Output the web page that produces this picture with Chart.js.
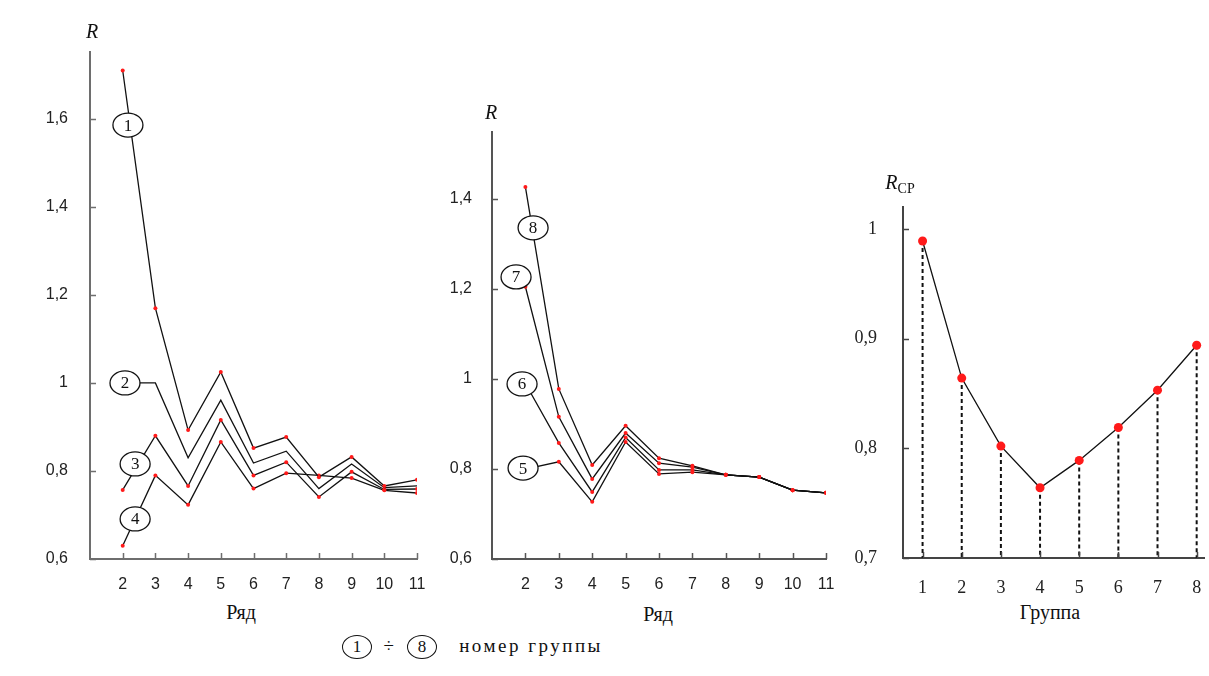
<!DOCTYPE html>
<html>
<head>
<meta charset="utf-8">
<script src="https://cdn.jsdelivr.net/npm/chart.js@4.4.1/dist/chart.umd.min.js"></script>
<style>
	body { margin: 0; background: #fff; width: 1209px; height: 676px; position: relative; overflow: hidden; }
	canvas { position: absolute; }
	.t { position: absolute; transform: translate(-50%, -50%); color: #111; white-space: nowrap; font-family: "Liberation Serif", "Times New Roman", serif; }
	.r { font-style: italic; font-size: 20px; }
	.title { font-size: 20px; }
	.oval { width: 28px; height: 22px; line-height: 22px; border: 1.4px solid #111; border-radius: 50%; text-align: center; font-size: 17px; }
	.legend { font-size: 19px; letter-spacing: 2.5px; }
</style>
</head>
<body>
<canvas id="leftChart" style="left:0;top:0" width="430" height="600"></canvas>
<canvas id="midChart" style="left:430px;top:0" width="410" height="600"></canvas>
<canvas id="rightChart" style="left:840px;top:0" width="369" height="599"></canvas>

<div class="t r" style="left:92px;top:31px">R</div>
<div class="t r" style="left:491px;top:112px">R</div>
<div class="t r" style="left:900px;top:182px">R<span style="font-style:normal;font-size:14px;position:relative;top:4px">CP</span></div>
<div class="t title" style="left:241px;top:612px">Ряд</div>
<div class="t title" style="left:658px;top:614px">Ряд</div>
<div class="t title" style="left:1050px;top:612px">Группа</div>
<div class="t oval" style="left:357px;top:647px">1</div>
<div class="t legend" style="left:390px;top:646px">÷</div>
<div class="t oval" style="left:422px;top:647px">8</div>
<div class="t legend" style="left:531px;top:646px">номер группы</div>

<script>
// ряд (row) numbers for the two left panels
const ryad = [2, 3, 4, 5, 6, 7, 8, 9, 10, 11];
const group1 = [1.71, 1.17, 0.893, 1.025, 0.852, 0.877, 0.786, 0.832, 0.766, 0.78];
const group2 = [1.0, 1.0, 0.83, 0.961, 0.818, 0.845, 0.76, 0.816, 0.762, 0.766];
const group3 = [0.757, 0.88, 0.766, 0.916, 0.79, 0.82, 0.741, 0.798, 0.758, 0.759];
const group4 = [0.63, 0.79, 0.723, 0.866, 0.76, 0.795, 0.79, 0.784, 0.756, 0.75];

const group5 = [0.8, 0.816, 0.727, 0.86, 0.789, 0.793, 0.787, 0.782, 0.753, 0.747];
const group6 = [0.99, 0.858, 0.749, 0.87, 0.798, 0.798, 0.787, 0.782, 0.753, 0.747];
const group7 = [1.205, 0.916, 0.778, 0.88, 0.813, 0.804, 0.787, 0.782, 0.753, 0.747];
const group8 = [1.427, 0.978, 0.809, 0.896, 0.824, 0.807, 0.787, 0.782, 0.753, 0.747];

// average R per group
const gruppa = [1, 2, 3, 4, 5, 6, 7, 8];
const rSr = [0.989, 0.864, 0.802, 0.764, 0.789, 0.819, 0.853, 0.894];

const leftYTicks = [0.6, 0.8, 1.0, 1.2, 1.4, 1.6];
const midYTicks = [0.6, 0.8, 1.0, 1.2, 1.4];
const rightYTicks = [0.7, 0.8, 0.9, 1.0];

// circled group numbers, anchored in data units
const leftTags = ['1', '2', '3', '4'];
const leftTagX = [2.16, 2.07, 2.38, 2.38];
const leftTagY = [1.586, 1.0, 0.816, 0.691];
const midTags = ['8', '7', '6', '5'];
const midTagX = [2.23, 1.72, 1.9, 1.93];
const midTagY = [1.336, 1.227, 0.989, 0.802];

const sansFont = { family: '"Liberation Sans", Arial, sans-serif', size: 16 };
const serifFont = { family: '"Liberation Serif", "Times New Roman", serif', size: 18 };

function fmt(v) {
	return String(Math.round(v * 10) / 10).replace('.', ',');
}

function toPoints(xs, ys) {
	return xs.map((x, i) => ({ x, y: ys[i] }));
}

function tagItems(texts, xs, ys) {
	return texts.map((text, i) => ({ text, x: xs[i], y: ys[i] }));
}

const innerTicks = {
	id: 'innerTicks',
	afterDraw(chart, args, opts) {
		const { ctx, chartArea: a, scales: { x, y } } = chart;
		ctx.save();
		ctx.strokeStyle = opts.color;
		ctx.lineWidth = 1.5;
		ctx.beginPath();
		for (const t of y.ticks) {
			const py = Math.round(y.getPixelForValue(t.value)) + 0.5;
			ctx.moveTo(a.left, py);
			ctx.lineTo(a.left + 6, py);
		}
		for (const t of x.ticks) {
			const px = Math.round(x.getPixelForValue(t.value)) + 0.5;
			ctx.moveTo(px, a.bottom);
			ctx.lineTo(px, a.bottom - 6);
		}
		ctx.stroke();
		ctx.restore();
	},
};

const circleTags = {
	id: 'circleTags',
	afterDatasetsDraw(chart, args, opts) {
		if (!opts.items) return;
		const { ctx, scales: { x, y } } = chart;
		ctx.save();
		for (const item of opts.items) {
			const px = x.getPixelForValue(item.x);
			const py = y.getPixelForValue(item.y);
			ctx.beginPath();
			ctx.ellipse(px, py, 15, 12, 0, 0, Math.PI * 2);
			ctx.fillStyle = '#fff';
			ctx.fill();
			ctx.lineWidth = 1.3;
			ctx.strokeStyle = '#111';
			ctx.stroke();
			ctx.fillStyle = '#111';
			ctx.font = '17px "Liberation Serif", "Times New Roman", serif';
			ctx.textAlign = 'center';
			ctx.textBaseline = 'middle';
			ctx.fillText(item.text, px, py + 1);
		}
		ctx.restore();
	},
};

const dropLines = {
	id: 'dropLines',
	beforeDatasetsDraw(chart, args, opts) {
		if (!opts.enabled) return;
		const { ctx, chartArea: a } = chart;
		const meta = chart.getDatasetMeta(0);
		ctx.save();
		ctx.strokeStyle = '#111';
		ctx.lineWidth = 2;
		ctx.setLineDash([4, 3]);
		for (const el of meta.data) {
			ctx.beginPath();
			ctx.moveTo(el.x, el.y);
			ctx.lineTo(el.x, a.bottom);
			ctx.stroke();
		}
		ctx.restore();
	},
};

function axis(o) {
	return {
		type: 'linear',
		min: o.min,
		max: o.max,
		afterBuildTicks: (scale) => {
			scale.ticks = o.ticks.map((value) => ({ value }));
		},
		afterFit: (scale) => {
			if (o.width) scale.width = o.width;
			if (o.height) scale.height = o.height;
		},
		// tick marks are hidden; tickLength only pushes the labels away from the axis
		grid: { display: false, drawTicks: true, tickLength: o.gap },
		border: { display: true, color: o.color, width: 2 },
		ticks: {
			padding: 0,
			color: '#222',
			font: o.font,
			autoSkip: false,
			maxRotation: 0,
			callback: (v) => fmt(v),
		},
	};
}

function lineSet(xs, ys, pointRadius, pointColor) {
	return {
		data: toPoints(xs, ys),
		borderColor: '#111',
		borderWidth: 1.3,
		pointRadius,
		pointBackgroundColor: pointColor,
		pointBorderWidth: 0,
		tension: 0,
	};
}

function makeChart(id, datasets, cfg) {
	return new Chart(document.getElementById(id), {
		type: 'line',
		data: { datasets },
		plugins: [innerTicks, circleTags, dropLines],
		options: {
			responsive: false,
			animation: false,
			layout: { padding: cfg.padding },
			plugins: {
				legend: { display: false },
				tooltip: { enabled: false },
				innerTicks: { color: cfg.axisColor },
				circleTags: { items: cfg.tags },
				dropLines: { enabled: !!cfg.drop },
			},
			scales: {
				x: axis({ min: cfg.xMin, max: cfg.xMax, ticks: cfg.xTicks, height: cfg.xHeight, gap: cfg.xGap, color: cfg.axisColor, font: cfg.font }),
				y: axis({ min: cfg.yMin, max: cfg.yMax, ticks: cfg.yTicks, width: cfg.yWidth, gap: cfg.yGap, color: cfg.axisColor, font: cfg.font }),
			},
		},
	});
}

makeChart('leftChart', [
	lineSet(ryad, group1, 2, '#ff1a1a'),
	lineSet(ryad, group2, 0, '#ff1a1a'),
	lineSet(ryad, group3, 2, '#ff1a1a'),
	lineSet(ryad, group4, 2, '#ff1a1a'),
], {
	padding: { top: 52, right: 13, left: 0, bottom: 0 },
	xMin: 1, xMax: 11, xTicks: ryad, xHeight: 41, xGap: 16,
	yMin: 0.6, yMax: 1.752, yTicks: leftYTicks, yWidth: 90, yGap: 22,
	axisColor: '#6e6e6e', font: sansFont,
	tags: tagItems(leftTags, leftTagX, leftTagY),
});

makeChart('midChart', [
	lineSet(ryad, group5, 2, '#ff1a1a'),
	lineSet(ryad, group6, 2, '#ff1a1a'),
	lineSet(ryad, group7, 2, '#ff1a1a'),
	lineSet(ryad, group8, 2, '#ff1a1a'),
], {
	padding: { top: 132, right: 14, left: 0, bottom: 0 },
	xMin: 1, xMax: 11, xTicks: ryad, xHeight: 41, xGap: 16,
	yMin: 0.6, yMax: 1.549, yTicks: midYTicks, yWidth: 62, yGap: 20,
	axisColor: '#555', font: sansFont,
	tags: tagItems(midTags, midTagX, midTagY),
});

makeChart('rightChart', [
	lineSet(gruppa, rSr, 4.5, '#ff1a1a'),
], {
	padding: { top: 207, right: 0, left: 0, bottom: 0 },
	xMin: 0.5, xMax: 8.2, xTicks: gruppa, xHeight: 41, xGap: 19,
	yMin: 0.7, yMax: 1.02, yTicks: rightYTicks, yWidth: 63, yGap: 26,
	axisColor: '#444', font: serifFont,
	drop: true,
});
</script>
</body>
</html>
